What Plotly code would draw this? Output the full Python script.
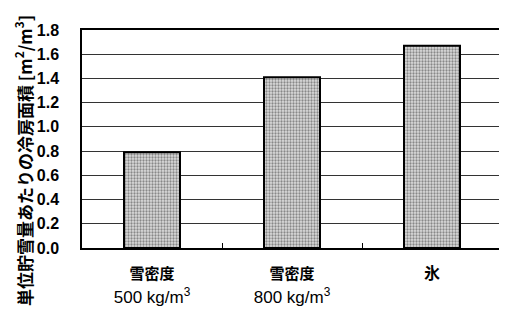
import plotly.graph_objects as go

categories = [
    "<span style='font-size:15px'><b>雪密度</b></span><br><span style='font-size:17px'>500 kg/m<sup>3</sup></span>",
    "<span style='font-size:15px'><b>雪密度</b></span><br><span style='font-size:17px'>800 kg/m<sup>3</sup></span>",
    "<span style='font-size:16px'><b>氷</b></span>",
]
values = [0.79, 1.41, 1.67]
yticks = [0.0, 0.2, 0.4, 0.6, 0.8, 1.0, 1.2, 1.4, 1.6, 1.8]
ytitle = "単位貯雪量あたりの冷房面積 [m<sup>2</sup>/m<sup>3</sup>]"

FONT = "Liberation Sans, Arial, Noto Sans CJK JP, sans-serif"

fig = go.Figure()
fig.add_trace(go.Bar(
    x=categories, y=values, width=0.4,
    marker=dict(
        color="white",
        line=dict(color="black", width=2),
        pattern=dict(shape=".", fgcolor="#333333", bgcolor="#dcdcdc",
                     size=3, solidity=0.45),
    ),
))

fig.add_annotation(
    text=ytitle, xref="paper", yref="paper", x=-0.14, y=0.40,
    textangle=-90, showarrow=False, xanchor="center", yanchor="middle",
    font=dict(size=17, family="Noto Sans CJK JP", weight="bold", color="black"),
)

fig.update_layout(
    width=499, height=316,
    margin=dict(l=74, r=5, t=22, b=76),
    paper_bgcolor="white", plot_bgcolor="white",
    font=dict(family=FONT, color="black", size=14),
    showlegend=False,
)
fig.update_xaxes(
    automargin=False,
    showline=True, linecolor="black", linewidth=1.5, mirror=True,
    ticks="inside", tickson="boundaries", ticklen=5, tickcolor="black",
    tickfont=dict(size=19, family="Liberation Sans, Noto Sans CJK JP"),
    ticklabelstandoff=6,
    showgrid=False,
)
fig.update_yaxes(
    automargin=False,
    range=[0, 1.8], tickvals=yticks, tickformat=".1f",
    showline=True, linecolor="black", linewidth=1.5, mirror=True,
    showgrid=True, gridcolor="#333333", gridwidth=1,
    ticks="", ticklabelstandoff=18,
    tickfont=dict(size=16, family="Liberation Sans Narrow, Liberation Sans, Arial", weight="bold"),
)

fig.write_html("out.html")
